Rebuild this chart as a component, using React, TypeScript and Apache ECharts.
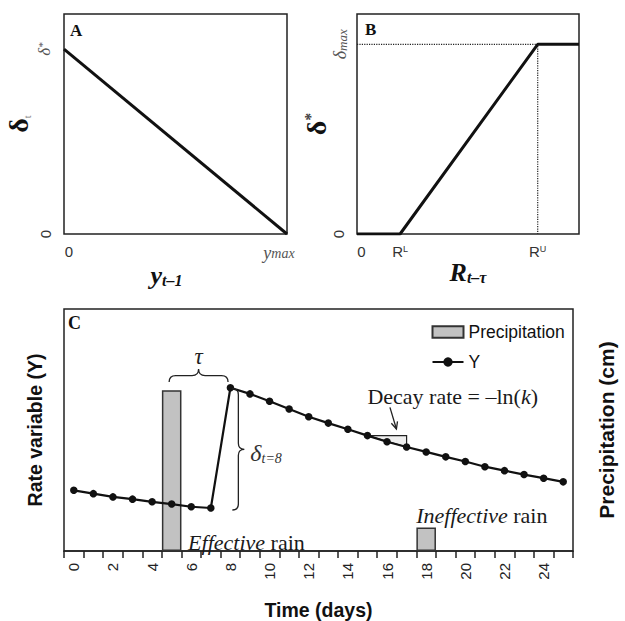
import { useEffect, useRef } from 'react';
import * as echarts from 'echarts';

// ---------- Panel C data ----------
const days = ['0','1','2','3','4','5','6','7','8','9','10','11','12','13','14','15','16','17','18','19','20','21','22','23','24','25'];
const rateY = [61.7, 58.3, 55, 52.7, 50, 47.7, 45, 43.7, 166, 159.7, 152.3, 144.3, 136.5, 130, 123.7, 117.3, 111, 105.7, 100.7, 95.7, 91, 85.7, 81.7, 77.7, 74, 70.3];
const precipDays = [5, 18];
const precipAmount = [163.3, 24];
const C_MAX = 246;
const decaySpan = [15, 17];

// ---------- Panel A data ----------
const panelA = [[0, 1], [1, 0]];
const A_YMAX = 1.19;

// ---------- Panel B data ----------
const R_L = 0.194;
const R_U = 0.814;
const panelB = [[0, 0], [R_L, 0], [R_U, 1], [1, 1]];
const panelBGuide = [[0, 1], [R_U, 1], [R_U, 0]];
const B_YMAX = 1.16;

// ---------- annotation anchors (data coords of panel C) ----------
const tauSpan = [4.87, 7.88];
const tauLevel = 171.7;
const deltaBraceDay = 8.1;
const effectivePos = [5.84, 9];
const ineffectivePos = [17.49, 24.5];
const decayTextPos = [15.0, 157];
const decayArrow = [[16.15, 146], [16.48, 124]];

const SERIF = 'Liberation Serif';
const SANS = 'Liberation Sans';
const INK = '#111';
const NOTE = 22;

function hBrace(x0: number, x1: number, y: number, h: number) {
  const m = (x0 + x1) / 2;
  const q = h / 2;
  return `M${x0},${y} Q${x0},${y - q} ${x0 + q},${y - q} L${m - q},${y - q} Q${m},${y - q} ${m},${y - h} Q${m},${y - q} ${m + q},${y - q} L${x1 - q},${y - q} Q${x1},${y - q} ${x1},${y}`;
}
function vBrace(x: number, y0: number, y1: number, w: number) {
  const m = (y0 + y1) / 2;
  const q = w / 2;
  return `M${x},${y0} Q${x + q},${y0} ${x + q},${y0 + q} L${x + q},${m - q} Q${x + q},${m} ${x + w},${m} Q${x + q},${m} ${x + q},${m + q} L${x + q},${y1 - q} Q${x + q},${y1} ${x},${y1}`;
}

function txt(x: number, y: number, text: string, rich: any, align: string, vAlign: string) {
  return {
    type: 'text',
    x, y,
    style: {
      text, rich,
      fill: '#1a1a1a',
      align, textAlign: align,
      verticalAlign: vAlign, textVerticalAlign: vAlign,
      fontFamily: SERIF, fontSize: NOTE,
    },
  };
}

export default function App() {
  const ref = useRef<HTMLDivElement>(null);
  useEffect(() => {
    if (!ref.current) return;
    const chart = echarts.init(ref.current, undefined, { renderer: 'svg' });

    const precipData = days.map((_, i) => {
      const k = precipDays.indexOf(i);
      return k >= 0 ? precipAmount[k] : null;
    });

    const grayLbl = { fontFamily: SERIF, fontStyle: 'italic', color: '#555' };
    const sansLbl = { fontFamily: SANS, fontSize: 15, color: '#333' };
    const noteRich = {
      i: { fontFamily: SERIF, fontStyle: 'italic', fontSize: NOTE, fill: '#1a1a1a' },
      r: { fontFamily: SERIF, fontSize: NOTE, fill: '#1a1a1a' },
    };

    const renderTriangle = (params: any, api: any) => {
      const a = api.value(0);
      const b = api.value(1);
      const p0 = api.coord([a, rateY[a]]);
      const p1 = api.coord([b, rateY[a]]);
      const p2 = api.coord([b, rateY[b]]);
      return {
        type: 'polygon',
        shape: { points: [p0, p1, p2] },
        style: { fill: '#efefef', stroke: '#222', lineWidth: 1.2 },
      };
    };

    const renderNotes = (params: any, api: any) => {
      const P = (d: number, v: number) => api.coord([d, v]);
      const [tx0, ty] = P(tauSpan[0], tauLevel);
      const [tx1] = P(tauSpan[1], tauLevel);
      const [dx, dy0] = P(deltaBraceDay, rateY[8] - 1);
      const [, dy1] = P(deltaBraceDay, rateY[7] - 2);
      const eff = P(effectivePos[0], effectivePos[1]);
      const ineff = P(ineffectivePos[0], ineffectivePos[1]);
      const dec = P(decayTextPos[0], decayTextPos[1]);
      const a0 = P(decayArrow[0][0], decayArrow[0][1]);
      const a1 = P(decayArrow[1][0], decayArrow[1][1]);
      const ux = a1[0] - a0[0], uy = a1[1] - a0[1];
      const len = Math.hypot(ux, uy);
      const ex = ux / len, ey = uy / len;
      const hl = 7, hw = 3.2;
      const bx = a1[0] - ex * hl, by = a1[1] - ey * hl;
      const stroke = { fill: 'none', stroke: '#222', lineWidth: 1.3 };
      return {
        type: 'group',
        children: [
          { type: 'path', shape: { pathData: hBrace(tx0, tx1, ty, 13) }, style: stroke },
          { type: 'path', shape: { pathData: vBrace(dx, dy0, dy1, 12) }, style: stroke },
          txt((tx0 + tx1) / 2, ty - 14, '{i|τ}', { i: { fontFamily: SERIF, fontStyle: 'italic', fontSize: 23, fill: '#222' } }, 'center', 'bottom'),
          txt(dx + 18, (dy0 + dy1) / 2 + 4, '{d|δ}{s|t=8}', {
            d: { fontFamily: SERIF, fontStyle: 'italic', fontSize: 24, fill: '#333' },
            s: { fontFamily: SERIF, fontStyle: 'italic', fontSize: 14, fill: '#333', verticalAlign: 'bottom' },
          }, 'left', 'middle'),
          txt(eff[0], eff[1], '{i|Effective}{r| rain}', noteRich, 'left', 'middle'),
          txt(ineff[0], ineff[1], '{i|Ineffective}{r| rain}', noteRich, 'left', 'bottom'),
          txt(dec[0], dec[1], '{r|Decay rate = –ln(}{i|k}{r|)}', noteRich, 'left', 'middle'),
          { type: 'line', shape: { x1: a0[0], y1: a0[1], x2: a1[0], y2: a1[1] }, style: stroke },
          { type: 'polyline', shape: { points: [[bx - ey * hw, by + ex * hw], a1, [bx + ey * hw, by - ex * hw]] }, style: stroke },
        ],
      };
    };

    const option: any = {
      animation: false,
      backgroundColor: '#fff',
      textStyle: { fontFamily: SANS },
      grid: [
        { left: 64, top: 14, width: 223, height: 220, show: true, borderColor: '#222', borderWidth: 1.5 },
        { left: 357, top: 14, width: 222, height: 220, show: true, borderColor: '#222', borderWidth: 1.5 },
        { left: 64, top: 309, width: 517, height: 246, show: true, borderColor: '#222', borderWidth: 1.5 },
      ],
      legend: {
        orient: 'vertical', left: 431.5, top: 323, padding: 0,
        itemWidth: 31, itemHeight: 11.6, itemGap: 12,
        textStyle: { fontSize: 17.5, fontFamily: SANS, color: INK },
        data: [{ name: 'Precipitation', icon: 'rect' }, { name: 'Y' }],
      },
      graphic: [
        { type: 'text', x: 70, y: 30, style: { text: 'A', fontFamily: SERIF, fontWeight: 'bold', fontSize: 17, fill: INK, verticalAlign: 'middle', textVerticalAlign: 'middle' } },
        { type: 'text', x: 365, y: 29, style: { text: 'B', fontFamily: SERIF, fontWeight: 'bold', fontSize: 17, fill: INK, verticalAlign: 'middle', textVerticalAlign: 'middle' } },
        { type: 'text', x: 68, y: 323, style: { text: 'C', fontFamily: SERIF, fontWeight: 'bold', fontSize: 18, fill: INK, verticalAlign: 'middle', textVerticalAlign: 'middle' } },
      ],
      xAxis: [
        {
          gridIndex: 0, type: 'value', min: 0, max: 1,
          axisLine: { show: false }, axisTick: { show: false }, splitLine: { show: false },
          axisLabel: {
            customValues: [0, 1], margin: 10,
            formatter: (v: number) => (v === 0 ? '{z|0}' : v === 1 ? '{i|y}{m|max}' : ''),
            rich: {
              z: { ...sansLbl, padding: [0, 0, 0, 10] },
              i: { ...grayLbl, fontSize: 18 },
              m: { ...grayLbl, fontSize: 14, padding: [0, 16, 0, 0] },
            },
          },
          name: '{y|y}{s|t–1}', nameLocation: 'middle', nameGap: 23,
          nameTextStyle: {
            rich: {
              y: { fontFamily: SERIF, fontStyle: 'italic', fontWeight: 'bold', fontSize: 26, color: INK },
              s: { fontFamily: SERIF, fontStyle: 'italic', fontWeight: 'bold', fontSize: 16, color: INK, verticalAlign: 'bottom', padding: [0, 18, 0, 0] },
            },
          },
        },
        {
          gridIndex: 1, type: 'value', min: 0, max: 1,
          axisLine: { show: false }, axisTick: { show: false }, splitLine: { show: false },
          axisLabel: {
            customValues: [0, R_L, R_U], margin: 10,
            formatter: (v: number) => (v === 0 ? '{z|0}' : v === R_L ? '{r|R}{u|L}' : v === R_U ? '{r|R}{u|U}' : ''),
            rich: {
              z: { ...sansLbl, padding: [0, 0, 0, 9] },
              r: { ...sansLbl },
              u: { ...sansLbl, fontSize: 9, verticalAlign: 'top' },
            },
          },
          name: '{r|R}{s|t–τ}', nameLocation: 'middle', nameGap: 22,
          nameTextStyle: {
            rich: {
              r: { fontFamily: SERIF, fontStyle: 'italic', fontWeight: 'bold', fontSize: 26, color: INK },
              s: { fontFamily: SERIF, fontStyle: 'italic', fontWeight: 'bold', fontSize: 16, color: INK, verticalAlign: 'bottom' },
            },
          },
        },
        {
          gridIndex: 2, type: 'category', data: days, boundaryGap: true,
          axisLine: { show: true, lineStyle: { color: '#222', width: 1.5 } },
          axisTick: { show: true, interval: 0, length: 7, lineStyle: { color: '#222', width: 1.5 } },
          axisLabel: { interval: 1, rotate: 90, margin: 12, fontSize: 15, fontFamily: SANS, color: '#222' },
          splitLine: { show: false },
          name: 'Time (days)', nameLocation: 'middle', nameGap: 49,
          nameTextStyle: { fontSize: 19.5, fontWeight: 'bold', fontFamily: SANS, color: INK },
        },
        { gridIndex: 2, type: 'value', min: -0.5, max: 25.5, show: false },
      ],
      yAxis: [
        {
          gridIndex: 0, type: 'value', min: 0, max: A_YMAX,
          axisLine: { show: false }, axisTick: { show: false }, splitLine: { show: false },
          axisLabel: {
            customValues: [0, 1], rotate: 90, margin: 11,
            formatter: (v: number) => (v === 0 ? '{z|0}' : v === 1 ? '{d|δ}{s|*}' : ''),
            rich: {
              z: { ...sansLbl },
              d: { ...grayLbl, fontSize: 17 },
              s: { ...grayLbl, fontSize: 11, verticalAlign: 'top' },
            },
          },
          name: '{d|δ}{s|t}', nameLocation: 'middle', nameGap: 32, nameRotate: 90,
          nameTextStyle: {
            rich: {
              d: { fontFamily: SERIF, fontWeight: 'bold', fontSize: 28, color: INK },
              s: { fontFamily: SERIF, fontSize: 10, color: '#777', verticalAlign: 'bottom' },
            },
          },
        },
        {
          gridIndex: 1, type: 'value', min: 0, max: B_YMAX,
          axisLine: { show: false }, axisTick: { show: false }, splitLine: { show: false },
          axisLabel: {
            customValues: [0, 1], rotate: 90, margin: 8,
            formatter: (v: number) => (v === 0 ? '{z|0}' : v === 1 ? '{d|δ}{s|max}' : ''),
            rich: {
              z: { ...sansLbl, padding: [0, 0, 3, 0] },
              d: { ...grayLbl, fontSize: 18 },
              s: { ...grayLbl, fontSize: 13, verticalAlign: 'bottom' },
            },
          },
          name: '{d|δ}{s|*}', nameLocation: 'middle', nameGap: 25, nameRotate: 90,
          nameTextStyle: {
            rich: {
              d: { fontFamily: SERIF, fontWeight: 'bold', fontSize: 28, color: INK },
              s: { fontFamily: SERIF, fontWeight: 'bold', fontSize: 16, color: '#444', verticalAlign: 'top' },
            },
          },
        },
        {
          gridIndex: 2, type: 'value', min: 0, max: C_MAX,
          axisLine: { show: false }, axisTick: { show: false }, axisLabel: { show: false }, splitLine: { show: false },
          name: 'Rate variable (Y)', nameLocation: 'middle', nameGap: 19, nameRotate: 90,
          nameTextStyle: { fontSize: 19.5, fontWeight: 'bold', fontFamily: SANS, color: INK },
        },
        {
          gridIndex: 2, type: 'value', position: 'right', min: 0, max: C_MAX,
          axisLine: { show: false }, axisTick: { show: false }, axisLabel: { show: false }, splitLine: { show: false },
          name: 'Precipitation (cm)', nameLocation: 'middle', nameGap: 23, nameRotate: 90,
          nameTextStyle: { fontSize: 21, fontWeight: 'bold', fontFamily: SANS, color: INK },
        },
      ],
      series: [
        {
          type: 'line', xAxisIndex: 0, yAxisIndex: 0, data: panelA, symbol: 'none',
          lineStyle: { color: INK, width: 3 }, silent: true,
        },
        {
          type: 'line', xAxisIndex: 1, yAxisIndex: 1, data: panelBGuide, symbol: 'none', z: 1,
          lineStyle: { color: '#222', width: 1.2, type: 'dotted' }, silent: true,
        },
        {
          type: 'line', xAxisIndex: 1, yAxisIndex: 1, data: panelB, symbol: 'none', z: 3,
          lineStyle: { color: INK, width: 3 }, silent: true,
        },
        {
          name: 'Precipitation', type: 'bar', xAxisIndex: 2, yAxisIndex: 3, data: precipData,
          barWidth: '100%', z: 1,
          itemStyle: { color: '#c2c2c2', borderColor: '#333', borderWidth: 1.5 },
        },
        {
          type: 'custom', xAxisIndex: 3, yAxisIndex: 2, data: [decaySpan], z: 2,
          renderItem: renderTriangle, silent: true,
        },
        {
          name: 'Y', type: 'line', xAxisIndex: 2, yAxisIndex: 2, data: rateY, z: 4,
          symbol: 'circle', symbolSize: 7.5, showSymbol: true,
          lineStyle: { color: INK, width: 2.2 }, itemStyle: { color: INK },
        },
        {
          type: 'custom', xAxisIndex: 3, yAxisIndex: 2, data: [[0, 0]], z: 5,
          renderItem: renderNotes, silent: true,
        },
      ],
    };

    chart.setOption(option);
    return () => chart.dispose();
  }, []);

  return <div ref={ref} style={{ position: 'fixed', left: 0, top: 0, width: 625, height: 621 }} />;
}
